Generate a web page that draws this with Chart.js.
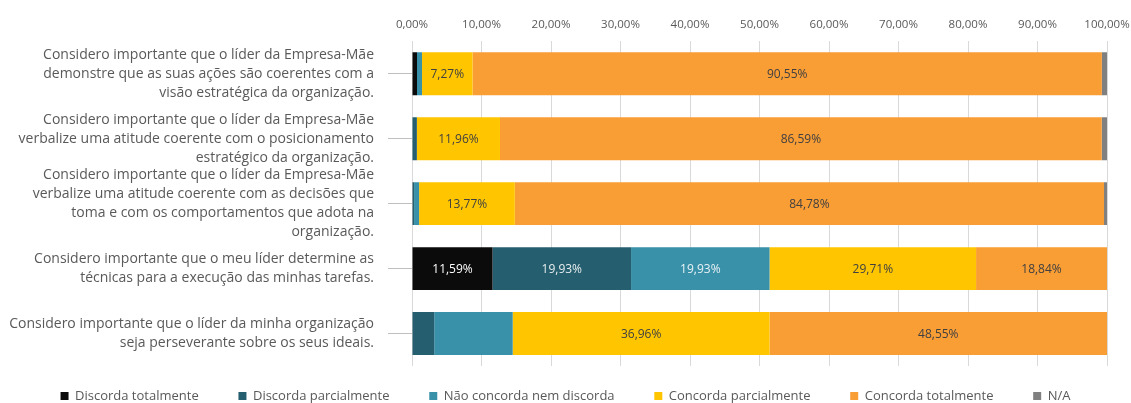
<!DOCTYPE html>
<html>
<head>
<meta charset="utf-8">
<script src="https://cdn.jsdelivr.net/npm/chart.js@4/dist/chart.umd.min.js"></script>
<style>
  html, body { margin:0; padding:0; background:#fff; }
  #wrap { width:1131px; height:403px; position:relative; }
</style>
</head>
<body>
<div id="wrap"><canvas id="chart"></canvas></div>
<script>
// statements (one per bar), split into display lines
var ITEMS = [
  ['Considero importante que o líder da Empresa-Mãe', 'demonstre que as suas ações são coerentes com a', 'visão estratégica da organização.'],
  ['Considero importante que o líder da Empresa-Mãe', 'verbalize uma atitude coerente com o posicionamento', 'estratégico da organização.'],
  ['Considero importante que o líder da Empresa-Mãe', 'verbalize uma atitude coerente com as decisões que', 'toma e com os comportamentos que adota na', 'organização.'],
  ['Considero importante que o meu líder determine as', 'técnicas para a execução das minhas tarefas.'],
  ['Considero importante que o líder da minha organização', 'seja perseverante sobre os seus ideais.']
];

var SERIES = ['Discorda totalmente', 'Discorda parcialmente', 'Não concorda nem discorda', 'Concorda parcialmente', 'Concorda totalmente', 'N/A'];

// percentages per answer, one value per statement
var DISCORDA_TOT  = [0.72, 0,    0,    11.59, 0];
var DISCORDA_PARC = [0,    0.70, 0.30, 19.93, 3.20];
var NEUTRO        = [0.72, 0,    0.72, 19.93, 11.29];
var CONCORDA_PARC = [7.27, 11.96, 13.77, 29.71, 36.96];
var CONCORDA_TOT  = [90.55, 86.59, 84.78, 18.84, 48.55];
var NA            = [0.74, 0.75, 0.43, 0,    0];

// which segments carry a value label
var LABEL_ON = [
  [false, false, false, true, false],
  [false, false, false, true, false],
  [false, false, false, true, false],
  [true,  true,  true,  true, true],
  [true,  true,  true,  true, true],
  [false, false, false, false, false]
];

var X_TICKS = [0, 10, 20, 30, 40, 50, 60, 70, 80, 90, 100];

var COLORS = ['#0b0b0b', '#255e6e', '#3990a9', '#ffc600', '#f99d35', '#808080'];
var LABEL_COLORS = ['#ffffff', '#e8eef0', '#e8f2f5', '#404040', '#404040', '#404040'];

function pct(v){ return v.toFixed(2).replace('.', ',') + '%'; }

var segLabels = {
  id: 'segLabels',
  afterDatasetsDraw: function(chart){
    var ctx = chart.ctx;
    ctx.save();
    ctx.font = '12px "Open Sans"';
    ctx.textAlign = 'center';
    ctx.textBaseline = 'middle';
    chart.data.datasets.forEach(function(ds, di){
      var meta = chart.getDatasetMeta(di);
      meta.data.forEach(function(el, i){
        if(!LABEL_ON[di][i]) return;
        ctx.fillStyle = LABEL_COLORS[di];
        ctx.fillText(pct(ds.data[i]), (el.x + el.base) / 2, el.y + 1);
      });
    });
    ctx.restore();
  }
};

var values = [DISCORDA_TOT, DISCORDA_PARC, NEUTRO, CONCORDA_PARC, CONCORDA_TOT, NA];
var datasets = [];
for(var s=0;s<SERIES.length;s++){
  datasets.push({
    label: SERIES[s],
    data: values[s],
    backgroundColor: COLORS[s],
    borderWidth: 0,
    barPercentage: 0.66,
    categoryPercentage: 1
  });
}

Chart.defaults.font.family = '"Open Sans", sans-serif';
Chart.defaults.color = '#595959';

new Chart(document.getElementById('chart').getContext('2d'), {
  type: 'bar',
  data: { labels: ITEMS, datasets: datasets },
  options: {
    indexAxis: 'y',
    responsive: true,
    maintainAspectRatio: false,
    animation: false,
    layout: { padding: { left: 0, right: 0, top: 7.5, bottom: 0 } },
    scales: {
      x: {
        position: 'top',
        stacked: true,
        min: 0, max: 100,
        afterBuildTicks: function(scale){ scale.ticks = X_TICKS.map(function(v){ return {value:v}; }); },
        afterFit: function(scale){ scale.paddingRight = 24; },
        ticks: { callback: function(v){ return pct(v); }, font: { size: 11.5 }, color: '#595959', padding: 10 },
        grid: { color: '#d9d9d9', drawTicks: false },
        border: { display: false }
      },
      y: {
        stacked: true,
        // fixed label column; multi-line labels must not push the plot area
        afterFit: function(scale){ scale.width = 412; scale.paddingTop = 0; scale.paddingBottom = 0; },
        ticks: { autoSkip: false, font: { size: 14, lineHeight: 1.36 }, color: '#595959', padding: 14 },
        grid: { drawOnChartArea: false, offset: false, tickLength: 24, color: '#bfbfbf' },
        border: { display: false }
      }
    },
    plugins: {
      legend: {
        position: 'bottom',
        maxHeight: 37,
        labels: {
          boxWidth: 8, boxHeight: 8, padding: 23.5, font: { size: 13 }, color: '#595959',
          generateLabels: function(chart){
            var items = Chart.defaults.plugins.legend.labels.generateLabels(chart);
            // widen the gap between entries
            for(var i=0;i<items.length-1;i++){ items[i].text += '\u2003\u2005'; }
            return items;
          }
        }
      },
      tooltip: { enabled: false }
    }
  },
  plugins: [segLabels]
});
</script>
</body>
</html>
